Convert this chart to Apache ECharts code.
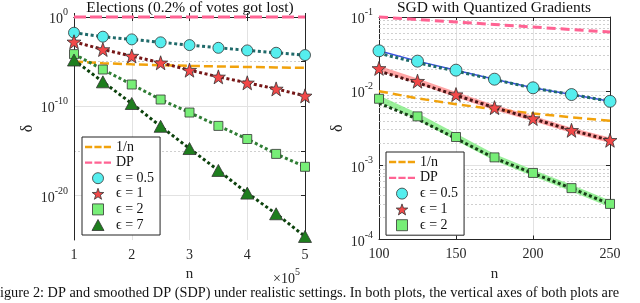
<!DOCTYPE html>
<html><head><meta charset="utf-8">
<script src="https://cdn.jsdelivr.net/npm/echarts@6/dist/echarts.min.js"></script>
<style>html,body{margin:0;padding:0;background:#fff}#c{width:640px;height:303px}</style>
</head><body><div id="c"></div>
<script>
// ---------- Left plot: Elections (0.2% of votes got lost) ----------
const nLeft = [1, 1.5, 2, 2.5, 3, 3.5, 4, 4.5, 5]; // in units of 10^5
const invNLeft = [1e-5, 6.67e-6, 5e-6, 4e-6, 3.33e-6, 2.86e-6, 2.5e-6, 2.22e-6, 2e-6];
const dpLeft = [1, 1, 1, 1, 1, 1, 1, 1, 1];
const eps05Left = [1.74e-2, 6.2e-3, 3.1e-3, 1.45e-3, 7.1e-4, 3.5e-4, 1.8e-4, 9.8e-5, 5.4e-5];
const eps1Left = [1.66e-3, 2.3e-4, 4.2e-5, 7.4e-6, 1.1e-6, 1.95e-7, 4.2e-8, 8.7e-9, 1.45e-9];
const eps2Left = [6.9e-5, 1.3e-6, 2.7e-8, 5.6e-10, 1.95e-11, 6.2e-13, 2.1e-14, 4.5e-16, 1.6e-17];
const eps7Left = [1.5e-5, 5.4e-8, 2e-10, 5.6e-13, 1.8e-15, 6.3e-18, 1.8e-20, 8.7e-23, 2.5e-25];
const xTicksLeft = [1, 2, 3, 4, 5];
const yLabelExpLeft = [0, -10, -20];

// ---------- Right plot: SGD with Quantized Gradients ----------
const nRight = [100, 125, 150, 175, 200, 225, 250];
const invNRight = [0.01, 0.008, 0.00667, 0.00571, 0.005, 0.00444, 0.004];
const dpRight = [0.1, 0.0925, 0.0856, 0.0792, 0.0733, 0.0678, 0.0626];
const eps05Right = [0.035, 0.0254, 0.0192, 0.0145, 0.0111, 0.0090, 0.0073];
const eps1Right = [0.0203, 0.01365, 0.0090, 0.0060, 0.00428, 0.00297, 0.00218];
const eps2Right = [0.0079, 0.00457, 0.00241, 0.00128, 0.00079, 0.000493, 0.000302];
const eps05RightBound = [0.0324, 0.0242, 0.0186, 0.0143, 0.0110, 0.0090, 0.0073];
const eps1RightBound = [0.0186, 0.0130, 0.0088, 0.0060, 0.00425, 0.00297, 0.00218];
const eps2RightBound = [0.0069, 0.0042, 0.0023, 0.00125, 0.00078, 0.00049, 0.0003];
const xTicksRight = [100, 150, 200, 250];
const yLabelExpRight = [-1, -2, -3, -4];
const yMinorRight = [];
[-4, -3, -2].forEach(d => { for (let k = 2; k <= 9; k++) yMinorRight.push(k * Math.pow(10, d)); });

// ---------- helpers ----------
const FONT = 'Liberation Serif';
const INK = '#262626';
const GRID = '#e2e2e2';
const MINOR = '#cfcfcf';
const lg = (xs, ys) => xs.map((x, i) => [x, Math.log10(ys[i])]);
function starPath() {
  let d = '';
  for (let i = 0; i < 10; i++) {
    const a = -Math.PI / 2 + i * Math.PI / 5;
    const r = i % 2 === 0 ? 50 : 20;
    d += (i === 0 ? 'M' : 'L') + (50 + r * Math.cos(a)).toFixed(2) + ',' + (50 + r * Math.sin(a)).toFixed(2) + ' ';
  }
  return 'path://' + d + 'Z';
}
const STAR = starPath();
const SQUARE = 'path://M0,0H10V10H0Z';
const TRI = 'path://M6,0L12,11L0,11Z';
const DASH = 'path://M0,0H8V2.6H0Z M10.5,0H18.5V2.6H10.5Z M21,0H29V2.6H21Z';
const pow10 = e => '{b|10}{s|' + e + '}';
const richPow = {
  b: { fontFamily: FONT, fontSize: 14, color: INK, verticalAlign: 'bottom', lineHeight: 19 },
  s: { fontFamily: FONT, fontSize: 10, color: INK, verticalAlign: 'top', lineHeight: 19 }
};

const C = {
  orange: '#f1a20c', pink: '#ff6393',
  cyan: '#55eeee', red: '#f24848', lgreen: '#77ee77', dgreen: '#1e7e1e',
  dTeal: '#1f6a6a', dRed: '#761616', dGreen: '#2f7d34', ddGreen: '#0c420c'
};
const mk = { borderColor: '#333', borderWidth: 0.8 };
const dotted = (color) => ({ color, width: 3, type: [3, 2.6], cap: 'butt' });

const chart = echarts.init(document.getElementById('c'), null, { renderer: 'canvas' });

const baseX = (grid, min, max, interval, ticks) => ({
  gridIndex: grid, type: 'value', min, max, interval,
  axisLine: { show: true, lineStyle: { color: INK, width: 1 } },
  axisTick: { show: true, inside: true, length: 4, lineStyle: { color: INK } },
  axisLabel: { show: true, margin: 8, fontFamily: FONT, fontSize: 14, color: INK,
    formatter: v => (ticks.indexOf(v) >= 0 ? String(v) : '') },
  splitLine: { show: true, lineStyle: { color: GRID, width: 1 } },
  name: 'n', nameLocation: 'middle', nameGap: 27,
  nameTextStyle: { fontFamily: FONT, fontSize: 15, color: INK }
});
const boxX = (grid, min, max, interval) => ({
  gridIndex: grid, type: 'value', min, max, interval, position: 'top',
  axisLine: { show: true, onZero: false, lineStyle: { color: INK, width: 1 } },
  axisTick: { show: true, inside: true, length: 4, lineStyle: { color: INK } },
  axisLabel: { show: false }, splitLine: { show: false }
});
const boxY = (grid, min, max, interval) => ({
  gridIndex: grid, type: 'value', min, max, interval, position: 'right',
  axisLine: { show: true, onZero: false, lineStyle: { color: INK, width: 1 } },
  axisTick: { show: true, inside: true, length: 4, lineStyle: { color: INK } },
  axisLabel: { show: false }, splitLine: { show: false }
});
const legendBase = {
  orient: 'vertical', padding: [3, 6, 3, 3],
  itemWidth: 26, itemHeight: 11, backgroundColor: '#fff', borderColor: '#222', borderWidth: 1,
  textStyle: { fontFamily: FONT, fontSize: 14, color: '#111', lineHeight: 14 },
  itemStyle: { borderWidth: 0.8, borderColor: '#333' },
  selectedMode: false
};

const option = {
  animation: false,
  backgroundColor: '#fff',
  grid: [
    { left: 74, top: 17, width: 231, height: 223 },
    { left: 379, top: 17, width: 231, height: 222.5 }
  ],
  xAxis: [
    baseX(0, 1, 5, 1, xTicksLeft),
    boxX(0, 1, 5, 1),
    baseX(1, 100, 250, 50, xTicksRight),
    boxX(1, 100, 250, 50)
  ],
  yAxis: [
    { gridIndex: 0, type: 'value', min: -25, max: 0, interval: 5,
      axisLine: { show: true, onZero: false, lineStyle: { color: INK, width: 1 } },
      axisTick: { show: false },
      axisLabel: { margin: 6, formatter: v => (yLabelExpLeft.indexOf(Math.round(v)) >= 0 ? pow10(Math.round(v)) : ''), rich: richPow },
      splitLine: { show: true, lineStyle: { color: ['rgba(0,0,0,0)', GRID, 'rgba(0,0,0,0)', GRID, 'rgba(0,0,0,0)', GRID] } },
      name: 'δ', nameLocation: 'middle', nameGap: 38, nameRotate: 90,
      nameTextStyle: { fontFamily: FONT, fontSize: 16, color: INK } },
    boxY(0, -25, 0, 5),
    { gridIndex: 0, type: 'value', min: -25, max: 0, interval: 5, position: 'left',
      axisLine: { show: false }, axisTick: { show: false }, axisLabel: { show: false },
      splitLine: { show: true, lineStyle: { type: [2, 2], color: ['rgba(0,0,0,0)', 'rgba(0,0,0,0)', MINOR, 'rgba(0,0,0,0)', MINOR, 'rgba(0,0,0,0)'] } } },
    { gridIndex: 1, type: 'value', min: -4, max: -1, interval: 1,
      axisLine: { show: true, onZero: false, lineStyle: { color: INK, width: 1 } },
      axisTick: { show: true, inside: true, length: 4, lineStyle: { color: INK } },
      axisLabel: { margin: 6, formatter: v => (yLabelExpRight.indexOf(Math.round(v)) >= 0 ? pow10(Math.round(v)) : ''), rich: richPow },
      splitLine: { show: true, lineStyle: { color: GRID } },
      name: 'δ', nameLocation: 'middle', nameGap: 33, nameRotate: 90,
      nameTextStyle: { fontFamily: FONT, fontSize: 16, color: INK } },
    boxY(1, -4, -1, 1)
  ],
  legend: [
    Object.assign({}, legendBase, { left: 82, top: 137, itemGap: 1.6,
      data: [
        { name: '1/n', icon: DASH, itemStyle: { borderWidth: 0 } },
        { name: 'DP', icon: DASH, itemStyle: { borderWidth: 0 } },
        { name: 'ϵ = 0.5', icon: 'circle' },
        { name: 'ϵ = 1', icon: STAR },
        { name: 'ϵ = 2', icon: SQUARE },
        { name: 'ϵ = 7', icon: TRI }
      ] }),
    Object.assign({}, legendBase, { left: 386, top: 152, itemGap: 1.8,
      data: [
        { name: '1/n', icon: DASH, itemStyle: { borderWidth: 0 } },
        { name: 'DP', icon: DASH, itemStyle: { borderWidth: 0 } },
        { name: 'ϵ = 0.5', icon: 'circle' },
        { name: 'ϵ = 1', icon: STAR },
        { name: 'ϵ = 2', icon: SQUARE }
      ] })
  ],
  series: [
    // ----- left -----
    { name: '1/n', type: 'line', xAxisIndex: 0, yAxisIndex: 0, z: 2, symbol: 'none',
      data: lg(nLeft, invNLeft), itemStyle: { color: C.orange },
      lineStyle: { color: C.orange, width: 2.5, type: [9, 4] } },
    { name: 'DP', type: 'line', xAxisIndex: 0, yAxisIndex: 0, z: 5, symbol: 'none', clip: false,
      data: lg(nLeft, dpLeft), itemStyle: { color: C.pink },
      lineStyle: { color: C.pink, width: 3, type: [12, 4] } },
    { name: 'ϵ = 0.5', type: 'line', xAxisIndex: 0, yAxisIndex: 0, z: 3,
      data: lg(nLeft, eps05Left), symbol: 'circle', symbolSize: 11, showAllSymbol: true,
      itemStyle: Object.assign({ color: C.cyan }, mk), lineStyle: dotted(C.dTeal) },
    { name: 'ϵ = 1', type: 'line', xAxisIndex: 0, yAxisIndex: 0, z: 3,
      data: lg(nLeft, eps1Left), symbol: STAR, symbolSize: 14, showAllSymbol: true,
      itemStyle: Object.assign({ color: C.red }, mk), lineStyle: dotted(C.dRed) },
    { name: 'ϵ = 2', type: 'line', xAxisIndex: 0, yAxisIndex: 0, z: 3,
      data: lg(nLeft, eps2Left), symbol: 'rect', symbolSize: 9, showAllSymbol: true,
      itemStyle: Object.assign({ color: C.lgreen }, mk), lineStyle: dotted(C.dGreen) },
    { name: 'ϵ = 7', type: 'line', xAxisIndex: 0, yAxisIndex: 0, z: 3, clip: false,
      data: lg(nLeft, eps7Left), symbol: 'triangle', symbolSize: [13, 12], showAllSymbol: true,
      itemStyle: Object.assign({ color: C.dgreen }, mk), lineStyle: dotted(C.ddGreen) },
    // ----- right -----
    { name: '1/n', type: 'line', xAxisIndex: 2, yAxisIndex: 3, z: 2, symbol: 'none',
      data: lg(nRight, invNRight), itemStyle: { color: C.orange },
      lineStyle: { color: C.orange, width: 2.5, type: [9, 5] },
      markLine: { silent: true, z: 1, symbol: 'none', label: { show: false },
        lineStyle: { color: MINOR, type: [2, 2], width: 1 },
        data: yMinorRight.map(v => ({ yAxis: Math.log10(v) })) } },
    { name: 'DP', type: 'line', xAxisIndex: 2, yAxisIndex: 3, z: 2, symbol: 'none', clip: false,
      data: lg(nRight, dpRight), itemStyle: { color: C.pink },
      lineStyle: { color: C.pink, width: 3, type: [9, 5] } },
    { name: 'band 0.5', type: 'line', xAxisIndex: 2, yAxisIndex: 3, z: 2, symbol: 'none',
      data: lg(nRight, eps05Right), lineStyle: { color: '#3a52e0', width: 1.5 } },
    { name: 'band 1', type: 'line', xAxisIndex: 2, yAxisIndex: 3, z: 2, symbol: 'none',
      data: lg(nRight, eps1Right), lineStyle: { color: 'rgba(255,105,105,0.6)', width: 5 } },
    { name: 'band 2', type: 'line', xAxisIndex: 2, yAxisIndex: 3, z: 2, symbol: 'none',
      data: lg(nRight, eps2Right), lineStyle: { color: 'rgba(120,235,120,0.75)', width: 6 } },
    { name: 'bound 0.5', type: 'line', xAxisIndex: 2, yAxisIndex: 3, z: 2, symbol: 'none',
      data: lg(nRight, eps05RightBound), lineStyle: dotted(C.dTeal) },
    { name: 'bound 1', type: 'line', xAxisIndex: 2, yAxisIndex: 3, z: 2, symbol: 'none',
      data: lg(nRight, eps1RightBound), lineStyle: dotted('#4a1414') },
    { name: 'bound 2', type: 'line', xAxisIndex: 2, yAxisIndex: 3, z: 2, symbol: 'none',
      data: lg(nRight, eps2RightBound), lineStyle: dotted('#173f17') },
    { name: 'ϵ = 0.5', type: 'scatter', xAxisIndex: 2, yAxisIndex: 3, z: 4, clip: false,
      data: lg(nRight, eps05Right), symbol: 'circle', symbolSize: 12,
      itemStyle: Object.assign({ color: C.cyan, opacity: 1 }, mk) },
    { name: 'ϵ = 1', type: 'scatter', xAxisIndex: 2, yAxisIndex: 3, z: 4, clip: false,
      data: lg(nRight, eps1Right), symbol: STAR, symbolSize: 14,
      itemStyle: Object.assign({ color: C.red, opacity: 1 }, mk) },
    { name: 'ϵ = 2', type: 'scatter', xAxisIndex: 2, yAxisIndex: 3, z: 4, clip: false,
      data: lg(nRight, eps2Right), symbol: 'rect', symbolSize: 9,
      itemStyle: Object.assign({ color: C.lgreen, opacity: 1 }, mk) }
  ],
  graphic: [
    { type: 'text', x: 190, y: 8, style: { text: 'Elections (0.2% of votes got lost)', x: 0, y: 0,
      align: 'center', verticalAlign: 'middle', font: '15.5px "Liberation Serif"', fill: '#111' } },
    { type: 'text', x: 494, y: 8, style: { text: 'SGD with Quantized Gradients', x: 0, y: 0,
      align: 'center', verticalAlign: 'middle', font: '15.5px "Liberation Serif"', fill: '#111' } },
    { type: 'text', x: 273, y: 277, style: { text: '{m|×10}{s|5}', x: 0, y: 0, align: 'left', verticalAlign: 'middle',
      rich: { m: { fontFamily: FONT, fontSize: 14, fill: INK, verticalAlign: 'bottom', lineHeight: 19 },
              s: { fontFamily: FONT, fontSize: 10, fill: INK, verticalAlign: 'top', lineHeight: 19 } } } },
    { type: 'text', x: -8, y: 293, style: { text: 'Figure 2: DP and smoothed DP (SDP) under realistic settings. In both plots, the vertical axes of both plots are',
      x: 0, y: 0, align: 'left', verticalAlign: 'middle', font: '14.3px "Liberation Serif"', fill: '#111' } }
  ]
};
chart.setOption(option);
</script>
</body></html>
